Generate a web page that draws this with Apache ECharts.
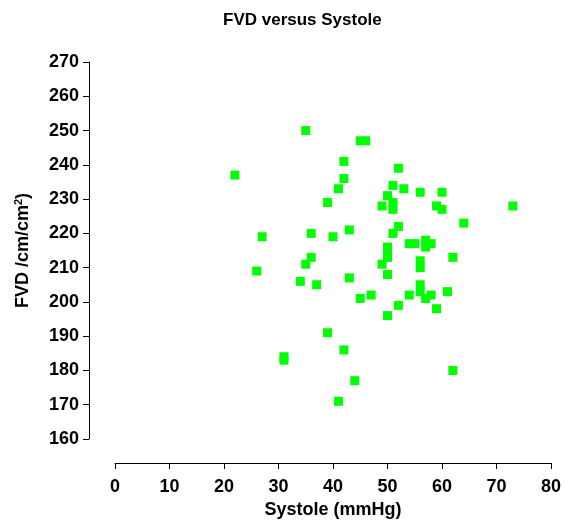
<!DOCTYPE html>
<html>
<head>
<meta charset="utf-8">
<script src="https://cdn.jsdelivr.net/npm/echarts@6/dist/echarts.min.js"></script>
<style>html,body{margin:0;padding:0;background:#fff;}#c{width:565px;height:524px;}</style>
</head>
<body>
<div id="c"></div>
<script>
var systole = [35,45,46,42,52,22,42,41,51,53,50,56,60,39,49,51,51,59,60,73,64,52,43,51,36,40,27,50,54,55,57,57,58,50,50,62,36,35,49,56,56,26,50,43,34,37,56,56,61,54,58,47,45,57,52,59,50,39,42,31,31,62,44,41];
var fvd = [250,247,247,241,239,237,236,233,234,233,231,232,232,229,228,229,227,228,227,228,223,222,221,220,220,219,219,216,217,217,218,216,217,214,213,213,213,211,211,212,210,209,208,207,206,205,205,203,203,202,202,202,201,201,199,198,196,191,186,184,183,180,177,171];
var xTicks = {min: 0, max: 80, step: 10};
var yTicks = {min: 160, max: 270, step: 10};
var titleText = 'FVD versus Systole';
var xName = 'Systole (mmHg)';
var yName = 'FVD /cm/cm{sup|2})';

var pts = systole.map(function(x, i){ return [x, fvd[i]]; });
var font = 'Liberation Sans, Arial, sans-serif';
var chart = echarts.init(document.getElementById('c'), null, {renderer: 'canvas'});
chart.setOption({
  animation: false,
  backgroundColor: '#ffffff',
  title: {
    text: titleText, left: 223, top: 12, padding: 0,
    textStyle: {fontFamily: font, fontSize: 17, fontWeight: 'bold', color: '#000'}
  },
  grid: {left: 115, right: 14, top: 62, bottom: 84},
  xAxis: {
    type: 'value', min: xTicks.min, max: xTicks.max, interval: xTicks.step,
    offset: 24,
    name: xName, nameLocation: 'middle', nameGap: 38,
    nameTextStyle: {fontFamily: font, fontSize: 18, fontWeight: 'bold', color: '#000'},
    axisLine: {show: true, onZero: false, lineStyle: {color: '#000', width: 1}},
    axisTick: {show: true, length: 6, inside: false, lineStyle: {color: '#000'}},
    axisLabel: {margin: 15, fontFamily: font, fontSize: 18, fontWeight: 'bold', color: '#000'},
    splitLine: {show: false}
  },
  yAxis: {
    type: 'value', min: yTicks.min, max: yTicks.max, interval: yTicks.step,
    offset: 26,
    name: yName, nameLocation: 'middle', nameGap: 56,
    nameTextStyle: {fontFamily: font, fontSize: 18, fontWeight: 'bold', color: '#000',
      rich: {sup: {fontFamily: font, fontSize: 11, fontWeight: 'bold', color: '#000', padding: [0,0,9,0]}}},
    axisLine: {show: true, onZero: false, lineStyle: {color: '#000', width: 1}},
    axisTick: {show: true, length: 6, inside: false, lineStyle: {color: '#000'}},
    axisLabel: {margin: 10, fontFamily: font, fontSize: 18, fontWeight: 'bold', color: '#000'},
    splitLine: {show: false}
  },
  series: [{
    type: 'scatter', data: pts, symbol: 'rect', symbolSize: 9,
    itemStyle: {color: '#00ff00', opacity: 1}
  }]
});
</script>
</body>
</html>
